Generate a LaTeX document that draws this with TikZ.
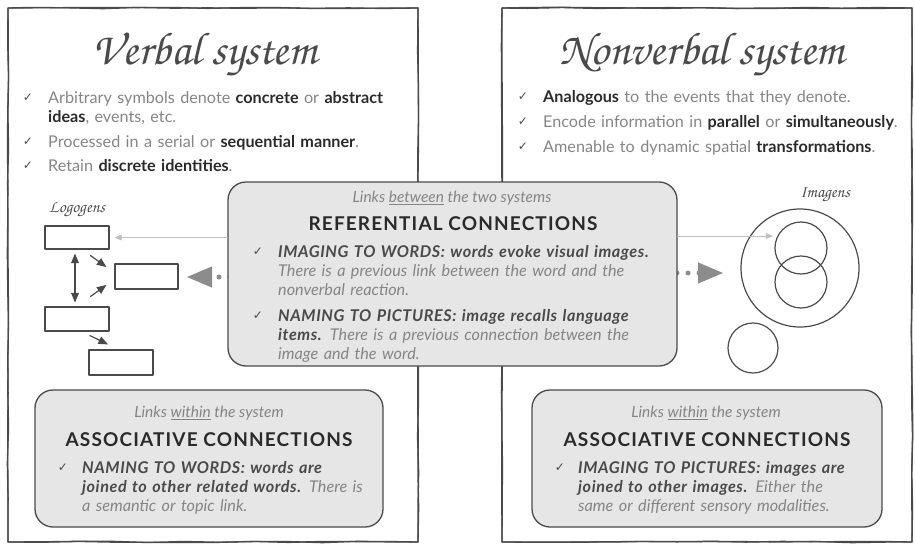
\documentclass[tikz,border=0pt]{standalone}
\usepackage{fontspec}
\setmainfont{Lato}
\newfontfamily\headfont[LetterSpace=6]{Lato}
\newfontfamily\bifont[LetterSpace=3.4]{Lato}
\newfontfamily\handfont{texgyrechorus-mediumitalic.otf}
\newfontfamily\symfont{DejaVu Sans}
\usetikzlibrary{arrows,decorations.pathmorphing}

\definecolor{txtgray}{HTML}{858585}
\definecolor{inkgray}{HTML}{4A4A4A}
\definecolor{inkdark}{HTML}{2A2A2A}
\definecolor{boxgray}{HTML}{E6E6E6}
\definecolor{arrgray}{HTML}{8C8C8C}

\newcommand{\chk}{{\symfont ✓}}
\newcommand{\bld}[1]{\textcolor{inkdark}{\textbf{#1}}}
\newcommand{\bi}[1]{\textcolor{inkgray}{\bifont\bfseries\itshape #1}}

\begin{document}
\begin{tikzpicture}[x=1pt,y=-1pt,line cap=round,line join=round,>=triangle 45,
  sketch/.style={draw=inkgray,line width=1.3pt,decorate,
    decoration={random steps,segment length=35pt,amplitude=0.7pt}},
  title/.style={anchor=base,font=\handfont\fontsize{46}{46}\selectfont,text=inkgray},
  hand/.style={font=\handfont\fontsize{17}{17}\selectfont,text=inkgray},
  item/.style={anchor=base west,inner sep=0pt,text width=420pt,align=left,
    font=\fontsize{16.2}{19}\selectfont,text=txtgray},
  tick/.style={inner sep=0pt,text=inkgray,font=\fontsize{12}{12}\selectfont},
  note/.style={inner sep=0pt,text=txtgray,font=\fontsize{15.5}{16}\selectfont\itshape},
  heading/.style={inner sep=0pt,text=inkdark,font=\headfont\fontsize{19}{19}\selectfont\bfseries},
  linkbox/.style={draw=inkgray,line width=1.3pt,fill=boxgray,rounded corners=18pt},
  logobox/.style={draw=inkgray,line width=1.2pt,minimum width=64pt,minimum height=24pt,inner sep=0pt},
  imgcircle/.style={draw=inkgray,line width=1.2pt,circle,inner sep=0pt},
  smallarrow/.style={draw=inkgray,line width=1.2pt},
  faint/.style={draw=black!25,line width=0.6pt},
  bigarrow/.style={draw=arrgray,line width=5pt,dash pattern=on 0pt off 11pt}]
\pgfmathsetseed{3}
\useasboundingbox (0,0) rectangle (915,546);

% Cadres
\foreach \k in {0,1}{
  \draw[sketch] (8,8) rectangle (418,542);
  \draw[sketch] (502,8) rectangle (912,542);
}

% Titres
\node[title] (verbal) at (205,64) {Verbal system};
\node[title] (nonverbal) at (702,64) {Nonverbal system};

% Systeme verbal
\node[tick] (tv1) at (28,98) {\chk};
\node[item] (v1) at (48,103) {Arbitrary symbols denote \bld{concrete} or \bld{abstract}\\ \bld{ideas}, events, etc.};
\node[tick] (tv2) at (28,142) {\chk};
\node[item] (v2) at (48,147) {Processed in a serial or \bld{sequential manner}.};
\node[tick] (tv3) at (28,166) {\chk};
\node[item] (v3) at (48,171) {Retain \bld{discrete identities}.};

% Systeme non verbal
\node[tick] (tn1) at (523,97) {\chk};
\node[item] (n1) at (543,102) {\bld{Analogous} to the events that they denote.};
\node[tick] (tn2) at (523,122) {\chk};
\node[item] (n2) at (543,127) {Encode information in \bld{parallel} or \bld{simultaneously}.};
\node[tick] (tn3) at (523,147) {\chk};
\node[item] (n3) at (543,152) {Amenable to dynamic spatial \bld{transformations}.};

% Logogenes
\node[hand] (logolbl) at (77,210) {Logogens};
\node[logobox,minimum height=23pt] (lg1) at (77,237.5) {};
\node[logobox,minimum width=63pt,minimum height=25pt] (lg2) at (146.5,276.5) {};
\node[logobox] (lg3) at (77,319) {};
\node[logobox,minimum height=25pt] (lg4) at (121,362.5) {};
\draw[smallarrow,<->,shorten <=4pt,shorten >=4pt] ([xshift=-2pt]lg1.south) -- ([xshift=-2pt]lg3.north);
\draw[smallarrow,->] ([shift={(-19,6)}]lg1.south east) -- ([shift={(-8,-9.5)}]lg2.west);
\draw[smallarrow,->] ([shift={(-19,-10)}]lg3.north east) -- ([shift={(-8,8.5)}]lg2.west);
\draw[smallarrow,->] ([shift={(13,4)}]lg3.south) -- ([shift={(-13,-5)}]lg4.north);

% Imagenes
\node[hand] (imglbl) at (825,195) {Imagens};
\node[imgcircle,minimum size=118pt] (outer) at (800,268) {};
\node[imgcircle,minimum size=52pt] (upper) at (801,248) {};
\node[imgcircle,minimum size=52pt] (lower) at (801,282) {};
\node[imgcircle,minimum size=50pt] (single) at (753,348) {};

% Liens entre les deux systemes
\coordinate (ltip) at (187,277);
\coordinate (rtip) at (723,273);
\coordinate (itip) at (773,236);
\draw[bigarrow,->] (230,277) -- (ltip);
\draw[bigarrow,->] (666,273) -- (rtip);
\node[linkbox,minimum width=449pt,minimum height=184pt] (refbox) at (452.5,274) {};
\draw[faint,->,shorten >=5pt] (refbox.west |- lg1.east) -- (lg1.east);
\draw[faint,->] (refbox.east |- itip) -- (itip);
\node[note] (refnote) at (452,198) {Links \underline{between} the two systems};
\node[heading] (refhead) at (453,224) {REFERENTIAL CONNECTIONS};
\node[tick] (tr1) at (258,252) {\chk};
\node[item] (r1) at (278,257) {\bi{IMAGING TO WORDS: words evoke visual images.}\\ \textit{There is a previous link between the word and the}\\ \textit{nonverbal reaction.}};
\node[tick] (tr2) at (258,316) {\chk};
\node[item] (r2) at (278,321) {\bi{NAMING TO PICTURES: image recalls language}\\ \bi{items.} \textit{There is a previous connection between the}\\ \textit{image and the word.}};

% Liens dans chaque systeme
\node[linkbox,minimum width=348pt,minimum height=137pt] (assocv) at (209,458.5) {};
\node[note] (vnote) at (209,413) {Links \underline{within} the system};
\node[heading] (vhead) at (209,440) {ASSOCIATIVE CONNECTIONS};
\node[tick] (ta1) at (63,468) {\chk};
\node[item] (a1) at (82,473) {\bi{NAMING TO WORDS: words are}\\ \bi{joined to other related words.} \textit{There is}\\ \textit{a semantic or topic link.}};

\node[linkbox,minimum width=350pt,minimum height=137pt] (assocn) at (707,458.5) {};
\node[note] (nnote) at (706,413) {Links \underline{within} the system};
\node[heading] (nhead) at (707,440) {ASSOCIATIVE CONNECTIONS};
\node[tick] (ta2) at (560,468) {\chk};
\node[item] (a2) at (578,473) {\bi{IMAGING TO PICTURES: images are}\\ \bi{joined to other images.} \textit{Either the}\\ \textit{same or different sensory modalities.}};
\end{tikzpicture}
\end{document}
